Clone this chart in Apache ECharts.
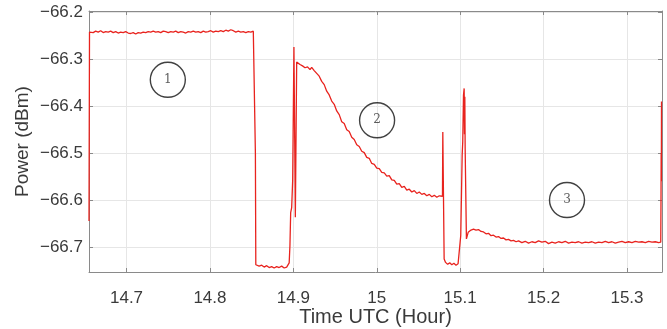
<!DOCTYPE html>
<html>
<head>
<meta charset="utf-8">
<script src="https://cdn.jsdelivr.net/npm/echarts@6/dist/echarts.min.js"></script>
<style>
  html, body { margin: 0; padding: 0; background: #fff; }
  #chart { width: 667px; height: 329px; }
</style>
</head>
<body>
<div id="chart"></div>
<script>
// [time (hour UTC), power (dBm)], segment by segment
const edgeStart = [[14.655, -66.645], [14.6553, -66.44], [14.6556, -66.242]]
const plateau1 = [
  [14.657, -66.241], [14.660, -66.243], [14.663, -66.240], [14.666, -66.242], [14.669, -66.239],
  [14.672, -66.243], [14.675, -66.241], [14.678, -66.242], [14.681, -66.240], [14.684, -66.243],
  [14.687, -66.241], [14.690, -66.244], [14.693, -66.242], [14.696, -66.243], [14.699, -66.241],
  [14.702, -66.244], [14.705, -66.245], [14.708, -66.243], [14.711, -66.246], [14.714, -66.243],
  [14.717, -66.244], [14.720, -66.242], [14.723, -66.243], [14.726, -66.241], [14.729, -66.242],
  [14.732, -66.240], [14.735, -66.242], [14.738, -66.241], [14.741, -66.243], [14.744, -66.240],
  [14.747, -66.241], [14.750, -66.243], [14.753, -66.241], [14.756, -66.242], [14.759, -66.240],
  [14.762, -66.243], [14.765, -66.241], [14.768, -66.242], [14.771, -66.244], [14.774, -66.241],
  [14.777, -66.242], [14.780, -66.240], [14.783, -66.242], [14.786, -66.241], [14.789, -66.243],
  [14.792, -66.240], [14.795, -66.242], [14.798, -66.241], [14.801, -66.239], [14.804, -66.242],
  [14.807, -66.240], [14.810, -66.241], [14.813, -66.239], [14.816, -66.241], [14.819, -66.238],
  [14.822, -66.240], [14.825, -66.237], [14.828, -66.239], [14.831, -66.242], [14.834, -66.240],
  [14.837, -66.242], [14.840, -66.241], [14.843, -66.243], [14.846, -66.241], [14.849, -66.242],
  [14.852, -66.240], [14.854, -66.241]
]
const dip1 = [
  [14.8545, -66.50], [14.855, -66.738], [14.856, -66.738], [14.859, -66.741], [14.862, -66.739],
  [14.865, -66.743], [14.868, -66.740], [14.871, -66.744], [14.874, -66.742], [14.877, -66.745],
  [14.880, -66.742], [14.883, -66.744], [14.886, -66.741], [14.889, -66.745], [14.892, -66.743],
  [14.894, -66.746]
]
const recovery1 = [
  [14.895, -66.734], [14.8959, -66.698], [14.8968, -66.627], [14.898, -66.616], [14.8992, -66.558],
  [14.9007, -66.274], [14.9024, -66.637], [14.904, -66.306]
]
const decay = [
  [14.905, -66.307], [14.908, -66.311], [14.911, -66.314], [14.914, -66.318], [14.917, -66.316],
  [14.920, -66.322], [14.922, -66.317], [14.925, -66.324], [14.928, -66.330], [14.931, -66.336],
  [14.934, -66.347], [14.937, -66.354], [14.940, -66.368], [14.943, -66.376], [14.946, -66.389],
  [14.949, -66.396], [14.952, -66.410], [14.955, -66.418], [14.958, -66.433], [14.961, -66.437],
  [14.964, -66.450], [14.967, -66.454], [14.970, -66.466], [14.973, -66.471], [14.976, -66.482],
  [14.979, -66.486], [14.982, -66.496], [14.985, -66.499], [14.988, -66.509], [14.991, -66.511],
  [14.994, -66.522], [14.997, -66.524], [15.000, -66.532], [15.003, -66.533], [15.006, -66.541],
  [15.009, -66.542], [15.012, -66.549], [15.015, -66.548], [15.018, -66.557], [15.021, -66.558],
  [15.024, -66.566], [15.027, -66.565], [15.030, -66.573], [15.033, -66.571], [15.036, -66.579],
  [15.039, -66.577], [15.042, -66.583], [15.045, -66.580], [15.048, -66.586], [15.051, -66.583],
  [15.054, -66.588], [15.057, -66.586], [15.060, -66.591], [15.063, -66.588], [15.066, -66.593],
  [15.069, -66.590], [15.072, -66.594], [15.075, -66.591], [15.077, -66.594], [15.0788, -66.592]
]
const dip2 = [
  [15.0792, -66.455], [15.0808, -66.726], [15.0825, -66.733], [15.085, -66.737], [15.0875, -66.734],
  [15.090, -66.738], [15.0925, -66.735], [15.095, -66.739], [15.0975, -66.736], [15.099, -66.739]
]
const recovery2 = [
  [15.1007, -66.676], [15.1024, -66.505], [15.1031, -66.476], [15.104, -66.376], [15.1048, -66.362],
  [15.1052, -66.46], [15.1056, -66.38], [15.106, -66.49], [15.1075, -66.683], [15.1096, -66.669]
]
const plateau3 = [
  [15.110, -66.668], [15.113, -66.664], [15.116, -66.662], [15.119, -66.664], [15.122, -66.663],
  [15.125, -66.667], [15.128, -66.668], [15.131, -66.672], [15.134, -66.671], [15.137, -66.676],
  [15.140, -66.675], [15.143, -66.679], [15.146, -66.678], [15.149, -66.682], [15.152, -66.681],
  [15.155, -66.685], [15.158, -66.684], [15.161, -66.687], [15.164, -66.686], [15.167, -66.689],
  [15.170, -66.687], [15.174, -66.691], [15.178, -66.688], [15.182, -66.692], [15.186, -66.689],
  [15.190, -66.691], [15.194, -66.687], [15.198, -66.690], [15.202, -66.688], [15.206, -66.693],
  [15.210, -66.690], [15.214, -66.692], [15.218, -66.689], [15.222, -66.691], [15.226, -66.688],
  [15.230, -66.692], [15.234, -66.690], [15.238, -66.691], [15.242, -66.689], [15.246, -66.692],
  [15.250, -66.690], [15.254, -66.691], [15.258, -66.689], [15.262, -66.692], [15.266, -66.690],
  [15.270, -66.691], [15.274, -66.688], [15.278, -66.691], [15.282, -66.689], [15.286, -66.692],
  [15.290, -66.690], [15.294, -66.688], [15.298, -66.691], [15.302, -66.689], [15.306, -66.691],
  [15.310, -66.688], [15.314, -66.690], [15.318, -66.689], [15.322, -66.691], [15.326, -66.688],
  [15.330, -66.690], [15.334, -66.689], [15.338, -66.691], [15.3405, -66.690]
]
const edgeEnd = [[15.3408, -66.600], [15.341, -66.50], [15.3412, -66.56], [15.3414, -66.39]]

// numbered circle annotations
const markerTimes = [14.7495, 15.0004, 15.2281]
const markerPowers = [-66.3437, -66.430, -66.600]
const markerLabels = ['1', '2', '3']

const xMin = 14.655
const xMax = 15.342
const yMin = -66.7535
const yMax = -66.197

const trace = [].concat(edgeStart, plateau1, dip1, recovery1, decay, dip2, recovery2, plateau3, edgeEnd)
const markers = markerTimes.map((t, i) => ({ value: [t, markerPowers[i]], name: markerLabels[i] }))

const axisColor = '#8a8a8a'
const textColor = '#3a3a3a'
const font = 'Liberation Sans, Arial, sans-serif'

const fmt = v => String(+(+v).toFixed(1)).replace('-', '\u2212')

const myChart = echarts.init(document.getElementById('chart'))
const option = {
  animation: false,
  backgroundColor: '#fff',
  // fixed plot box, don't let v6 shrink it around the labels
  grid: { left: 89, right: 5, top: 11, bottom: 57, outerBoundsMode: 'none', containLabel: false },
  xAxis: [
    {
      type: 'value',
      min: xMin,
      max: xMax,
      splitNumber: 7,
      position: 'bottom',
      name: 'Time UTC (Hour)',
      nameLocation: 'middle',
      nameGap: 35,
      nameMoveOverlap: false,
      nameTextStyle: { color: textColor, fontSize: 20, fontFamily: font },
      axisLine: { show: true, onZero: false, lineStyle: { color: axisColor, width: 1 } },
      axisTick: { show: true, inside: true, length: 4, lineStyle: { color: axisColor } },
      axisLabel: {
        color: textColor, fontSize: 17, fontFamily: font, margin: 26,
        verticalAlign: 'middle', lineHeight: 17,
        showMinLabel: false, showMaxLabel: false, formatter: fmt
      },
      splitLine: { show: true, lineStyle: { color: '#e6e6e6', width: 1 } }
    },
    {
      type: 'value',
      min: xMin,
      max: xMax,
      splitNumber: 7,
      position: 'top',
      axisLine: { show: true, onZero: false, lineStyle: { color: axisColor, width: 1 } },
      axisTick: { show: true, inside: true, length: 4, lineStyle: { color: axisColor } },
      axisLabel: { show: false },
      splitLine: { show: false }
    }
  ],
  yAxis: [
    {
      type: 'value',
      min: yMin,
      max: yMax,
      splitNumber: 5,
      position: 'left',
      name: 'Power (dBm)',
      nameLocation: 'middle',
      nameGap: 57,
      nameMoveOverlap: false,
      nameTextStyle: { color: textColor, fontSize: 19, fontFamily: font },
      axisLine: { show: true, onZero: false, lineStyle: { color: axisColor, width: 1 } },
      axisTick: { show: true, inside: true, length: 4, lineStyle: { color: axisColor } },
      axisLabel: {
        color: textColor, fontSize: 17, fontFamily: font, margin: 6,
        showMinLabel: false, showMaxLabel: false, formatter: fmt
      },
      splitLine: { show: true, lineStyle: { color: '#e6e6e6', width: 1 } }
    },
    {
      type: 'value',
      min: yMin,
      max: yMax,
      splitNumber: 5,
      position: 'right',
      axisLine: { show: true, onZero: false, lineStyle: { color: axisColor, width: 1 } },
      axisTick: { show: true, inside: true, length: 4, lineStyle: { color: axisColor } },
      axisLabel: { show: false },
      splitLine: { show: false }
    }
  ],
  series: [
    {
      type: 'line',
      data: trace,
      showSymbol: false,
      symbol: 'none',
      clip: true,
      lineStyle: { color: '#e8231e', width: 1.3 },
      z: 3
    },
    {
      type: 'scatter',
      data: markers,
      symbol: 'circle',
      symbolSize: 35,
      itemStyle: { color: 'rgba(255,255,255,0)', borderColor: '#111', borderWidth: 1.4 },
      label: {
        show: true,
        position: 'inside',
        formatter: p => p.name,
        color: '#333',
        fontSize: 12,
        fontFamily: 'DejaVu Serif, serif'
      },
      silent: true,
      z: 4
    }
  ]
}

option && myChart.setOption(option)
</script>
</body>
</html>
